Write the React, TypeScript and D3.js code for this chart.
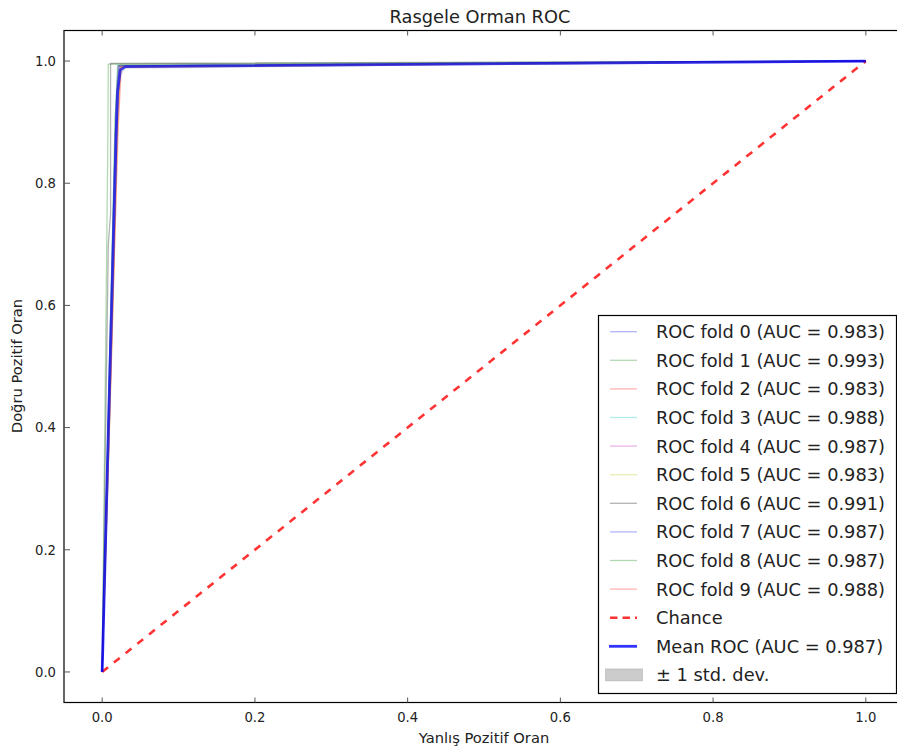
import React from 'react';
import * as d3 from 'd3';

// fold curves (fpr / tpr)
const foldFpr = [
  [0, 0.01, 0.019, 0.023, 1],
  [0, 0.0075, 0.008, 1],
  [0, 0.012, 0.021, 0.025, 1],
  [0, 0.009, 0.017, 0.02, 1],
  [0, 0.011, 0.018, 0.021, 1],
  [0, 0.012, 0.02, 0.024, 1],
  [0, 0.008, 0.011, 0.011, 1],
  [0, 0.01, 0.018, 0.022, 1],
  [0, 0.01, 0.017, 0.021, 1],
  [0, 0.013, 0.02, 0.024, 1],
];
const foldTpr = [
  [0, 0.5, 0.9, 0.992, 1],
  [0, 0.88, 0.995, 1],
  [0, 0.52, 0.89, 0.99, 1],
  [0, 0.48, 0.9, 0.993, 1],
  [0, 0.55, 0.92, 0.992, 1],
  [0, 0.5, 0.88, 0.99, 1],
  [0, 0.7, 0.75, 0.996, 1],
  [0, 0.5, 0.9, 0.992, 1],
  [0, 0.52, 0.91, 0.993, 1],
  [0, 0.55, 0.9, 0.991, 1],
];
const foldAuc = ['0.983', '0.993', '0.983', '0.988', '0.987', '0.983', '0.991', '0.987', '0.987', '0.988'];
const foldColors = ['#0000ff', '#008000', '#ff0000', '#00bfbf', '#bf00bf', '#bfbf00', '#000000', '#0000ff', '#008000', '#ff0000'];

const meanFpr = [0, 0.0101, 0.0183, 0.0202, 0.0236, 0.0303, 1];
const meanTpr = [0, 0.49, 0.88, 0.95, 0.985, 0.991, 1];
const stdTpr = [0, 0.1, 0.08, 0.04, 0.012, 0.004, 0];
const meanAuc = '0.987';

const tickValues = [0, 0.2, 0.4, 0.6, 0.8, 1.0];
const tickLabels = ['0.0', '0.2', '0.4', '0.6', '0.8', '1.0'];

const font = 'DejaVu Sans, sans-serif';

export default function App() {
  const x = d3.scaleLinear().domain([-0.05, 1.05]).range([64, 904]);
  const y = d3.scaleLinear().domain([-0.05, 1.05]).range([702.5, 30.5]);

  const line = d3.line<[number, number]>()
    .x((d) => x(d[0]))
    .y((d) => y(d[1]));

  const area = d3.area<number>()
    .x((_, i) => x(meanFpr[i]))
    .y0((_, i) => y(Math.max(meanTpr[i] - stdTpr[i], 0)))
    .y1((_, i) => y(Math.min(meanTpr[i] + stdTpr[i], 1)));

  const left = x.range()[0];
  const right = x.range()[1];
  const top = y.range()[1];
  const bottom = y.range()[0];

  // legend
  const legX = 598.5;
  const legY = 315.5;
  const rowY = (i: number) => 331.7 + 28.6 * i;
  const legendRows = [
    ...foldAuc.map((a, i) => ({ label: `ROC fold ${i} (AUC = ${a})`, kind: 'fold', color: foldColors[i] })),
    { label: 'Chance', kind: 'chance', color: '#ff0000' },
    { label: `Mean ROC (AUC = ${meanAuc})`, kind: 'mean', color: '#0000ff' },
    { label: '± 1 std. dev.', kind: 'std', color: 'grey' },
  ];

  return (
    <svg width={897} height={751} style={{ position: 'absolute', left: 0, top: 0, background: '#fff' }} fontFamily={font}>
      <defs>
        <clipPath id="plot">
          <rect x={left} y={top} width={right - left} height={bottom - top} />
        </clipPath>
      </defs>
      <rect x={0} y={0} width={897} height={751} fill="#fff" />

      <g clipPath="url(#plot)">
        {foldFpr.map((f, i) => (
          <path
            key={i}
            d={line(f.map((v, j) => [v, foldTpr[i][j]] as [number, number])) || ''}
            fill="none"
            stroke={foldColors[i]}
            strokeOpacity={0.3}
            strokeWidth={1.3}
          />
        ))}
        <path
          d={line([[0, 0], [1, 1]]) || ''}
          fill="none"
          stroke="#ff0000"
          strokeOpacity={0.8}
          strokeWidth={2.6}
          strokeDasharray="7.5,7.5"
        />
        <path
          d={line(meanFpr.map((v, j) => [v, meanTpr[j]] as [number, number])) || ''}
          fill="none"
          stroke="#0000ff"
          strokeOpacity={0.8}
          strokeWidth={2.8}
          strokeLinejoin="round"
        />
        <path d={area(meanTpr) || ''} fill="grey" fillOpacity={0.2} />
      </g>

      {/* frame */}
      <rect x={left} y={top} width={right - left} height={bottom - top} fill="none" stroke="#000" strokeWidth={1.2} />

      {/* ticks */}
      {tickValues.map((t, i) => (
        <g key={`x${i}`}>
          <line x1={x(t)} x2={x(t)} y1={bottom} y2={bottom - 5} stroke="#555" strokeWidth={1} />
          <line x1={x(t)} x2={x(t)} y1={top} y2={top + 5} stroke="#555" strokeWidth={1} />
          <text x={x(t)} y={722} textAnchor="middle" fontSize={13.2} fill="#222">{tickLabels[i]}</text>
        </g>
      ))}
      {tickValues.map((t, i) => (
        <g key={`y${i}`}>
          <line x1={left} x2={left + 6} y1={y(t)} y2={y(t)} stroke="#555" strokeWidth={1} />
          <line x1={right} x2={right - 6} y1={y(t)} y2={y(t)} stroke="#555" strokeWidth={1} />
          <text x={56} y={y(t)} dy="0.36em" textAnchor="end" fontSize={13.2} fill="#222">{tickLabels[i]}</text>
        </g>
      ))}

      {/* titles */}
      <text x={480} y={23} textAnchor="middle" fontSize={17.8} fill="#222">Rasgele Orman ROC</text>
      <text x={484} y={743} textAnchor="middle" fontSize={14.7} fill="#222">Yanlış Pozitif Oran</text>
      <text
        transform={`translate(22, ${366}) rotate(-90)`}
        textAnchor="middle"
        fontSize={14.7}
        fill="#222"
      >
        Doğru Pozitif Oran
      </text>

      {/* legend */}
      <rect x={legX} y={legY} width={298} height={378} fill="#fff" stroke="#000" strokeWidth={1.2} />
      {legendRows.map((r, i) => {
        const cy = rowY(i);
        let handle;
        if (r.kind === 'fold') {
          handle = <line x1={610} x2={637} y1={cy} y2={cy} stroke={r.color} strokeOpacity={0.3} strokeWidth={1.3} />;
        } else if (r.kind === 'chance') {
          handle = <line x1={610} x2={637} y1={cy} y2={cy} stroke={r.color} strokeOpacity={0.8} strokeWidth={2.6} strokeDasharray="7.5,5" />;
        } else if (r.kind === 'mean') {
          handle = <line x1={609} x2={637} y1={cy} y2={cy} stroke={r.color} strokeOpacity={0.8} strokeWidth={2.8} />;
        } else {
          handle = <rect x={605.5} y={cy - 6} width={37} height={12} fill="grey" fillOpacity={0.4} stroke="grey" strokeOpacity={0.3} />;
        }
        return (
          <g key={i}>
            {handle}
            <text x={656} y={cy} dy="0.36em" fontSize={17.8} fill="#222">{r.label}</text>
          </g>
        );
      })}
    </svg>
  );
}
